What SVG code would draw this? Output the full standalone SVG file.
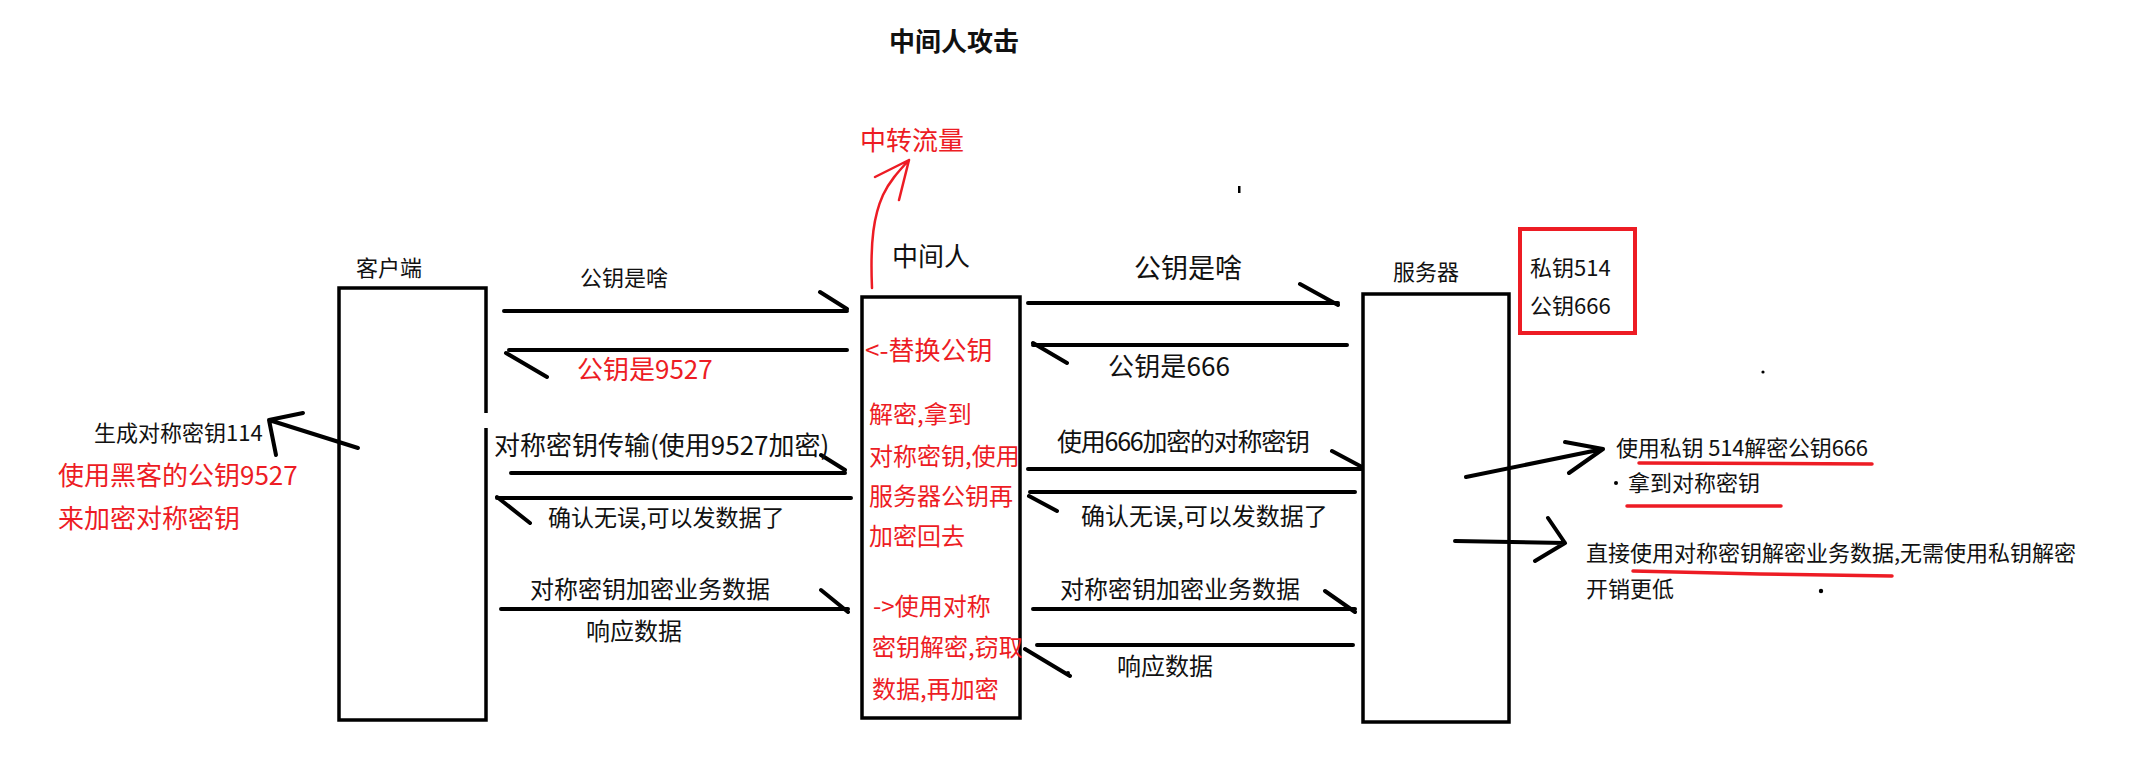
<svg xmlns="http://www.w3.org/2000/svg" width="2136" height="777" viewBox="0 0 2136 777">
<style>
text{font-family:"Noto Sans CJK SC","Microsoft YaHei",sans-serif;fill:#111}
.r{fill:#ed1c24}
.b{font-weight:bold}
.box{fill:none;stroke:#000;stroke-width:3.5;stroke-linejoin:miter}
.ln{fill:none;stroke:#000;stroke-width:4;stroke-linecap:round;stroke-linejoin:round}
.rl{fill:none;stroke:#ed1c24;stroke-width:2.5;stroke-linecap:round;stroke-linejoin:round}
.ul{fill:none;stroke:#ed1c24;stroke-width:3.5;stroke-linecap:round}
</style>
<rect width="2136" height="777" fill="#fff"/>
<text x="889" y="51" font-size="26" class="b">中间人攻击</text>

<g id="client">
<path class="box" d="M486,428 V720 H339 V288 H486 V413"/>
<text x="356" y="276" font-size="22">客户端</text>
<text x="94" y="441" font-size="22">生成对称密钥114</text>
<text x="58" y="485" font-size="26" class="r">使用黑客的公钥9527</text>
<text x="58" y="528" font-size="26" class="r">来加密对称密钥</text>
</g>

<g id="mitm">
<rect class="box" x="862" y="297" width="158" height="421"/>
<text x="892" y="266" font-size="26">中间人</text>
<text x="860" y="150" font-size="26" class="r">中转流量</text>
<text x="865" y="360" font-size="26" class="r">&lt;-替换公钥</text>
<text x="869" y="423" font-size="24" class="r">解密,拿到</text>
<text x="869" y="465" font-size="24" class="r">对称密钥,使用</text>
<text x="869" y="505" font-size="24" class="r">服务器公钥再</text>
<text x="869" y="545" font-size="24" class="r">加密回去</text>
<text x="873" y="615" font-size="24" class="r">-&gt;使用对称</text>
<text x="872" y="656" font-size="24" class="r">密钥解密,窃取</text>
<text x="872" y="698" font-size="24" class="r">数据,再加密</text>
</g>

<g id="server">
<rect class="box" x="1363" y="294" width="146" height="428"/>
<text x="1393" y="280" font-size="22">服务器</text>
</g>

<g id="keys">
<rect x="1520" y="229" width="115" height="104" fill="none" stroke="#ed1c24" stroke-width="4"/>
<text x="1530" y="276" font-size="22">私钥514</text>
<text x="1530" y="314" font-size="22">公钥666</text>
</g>

<g id="notes">
<text x="1616" y="456" font-size="22" textLength="252">使用私钥 514解密公钥666</text>
<circle cx="1616" cy="483" r="2"/>
<text x="1628" y="491" font-size="22">拿到对称密钥</text>
<text x="1586" y="561" font-size="22">直接使用对称密钥解密业务数据,无需使用私钥解密</text>
<text x="1586" y="597" font-size="22">开销更低</text>
<path class="ul" d="M1639,463 L1872,464"/>
<path class="ul" d="M1627,506 L1781,506"/>
<path class="ul" d="M1633,571 L1760,574 L1892,576"/>
</g>

<g id="connectors">
<path class="ln" d="M504,311 H847 M820,292 L847,309"/>
<path class="ln" d="M847,350 H509 M506,353 L547,377"/>
<text x="580" y="286" font-size="22">公钥是啥</text>
<text x="577" y="379" font-size="26" class="r">公钥是9527</text>
<path class="ln" d="M511,473 H845 M821,455 L845,470"/>
<text x="494" y="455" font-size="26">对称密钥传输(使用9527加密)</text>
<path class="ln" d="M851,498 H497 M497,497 L530,523"/>
<text x="548" y="526" font-size="23">确认无误,可以发数据了</text>
<path class="ln" d="M501,609 H848 M821,590 L848,612"/>
<text x="530" y="598" font-size="24">对称密钥加密业务数据</text>
<text x="586" y="640" font-size="24">响应数据</text>
<path class="ln" d="M1028,303 H1338 M1300,284 L1338,305"/>
<text x="1134" y="278" font-size="27">公钥是啥</text>
<path class="ln" d="M1347,345 H1033 M1033,343 L1067,363"/>
<text x="1108" y="376" font-size="26" textLength="122">公钥是666</text>
<path class="ln" d="M1028,469 H1362 M1332,451 L1362,467"/>
<text x="1057" y="451" font-size="25" textLength="253">使用666加密的对称密钥</text>
<path class="ln" d="M1355,492 H1030 M1029,496 L1057,511"/>
<text x="1081" y="525" font-size="24">确认无误,可以发数据了</text>
<path class="ln" d="M1033,609 H1355 M1325,591 L1355,612"/>
<text x="1060" y="598" font-size="24">对称密钥加密业务数据</text>
<path class="ln" d="M1353,645 H1037 M1025,649 L1070,676"/>
<text x="1117" y="675" font-size="24">响应数据</text>
<path class="ln" d="M358,448 L269,420 M303,413 L269,420 L276,455"/>
<path class="ln" d="M1466,477 L1603,449 M1565,442 L1603,449 L1569,473"/>
<path class="ln" d="M1455,541 L1565,543 M1548,518 L1565,543 L1535,561"/>
<path class="rl" d="M872,288 C870,240 874,215 883,195 C889,182 898,172 909,160 M875,177 L909,160 L899,200"/>
</g>

<g id="marks">
<rect x="1238" y="186" width="2.5" height="7"/>
<circle cx="1763" cy="372" r="1.6"/>
<circle cx="1821" cy="591" r="2.2"/>
<circle cx="1068" cy="673" r="2"/>
</g>
</svg>
